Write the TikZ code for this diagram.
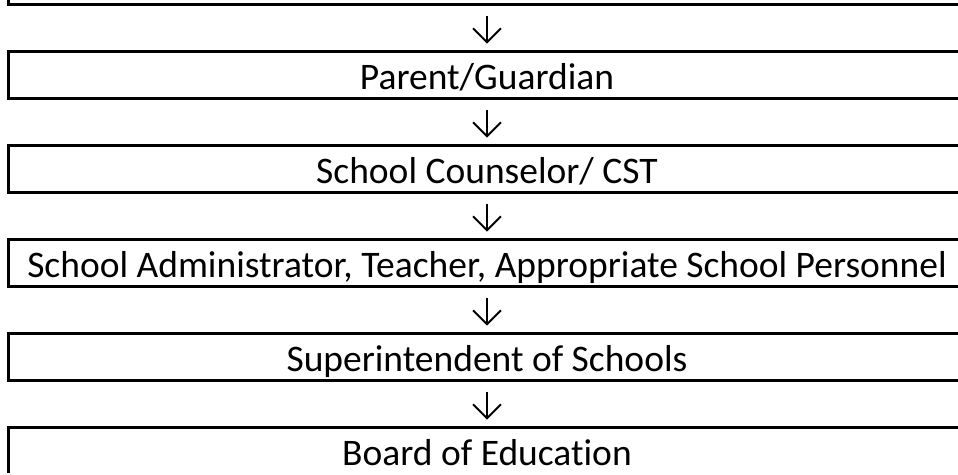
\documentclass[tikz,border=0pt]{standalone}
\usepackage{fontspec}
\setmainfont[Ligatures=NoCommon]{Carlito}
\usepackage{tikz}
\usetikzlibrary{positioning, arrows.meta}
\tikzset{
	frame/.style={
		rectangle, draw, line width=3pt,
		minimum width=958pt, minimum height=47pt,
		inner sep=0pt, outer sep=0pt,
		text height=29pt, text depth=0pt,
	},
	line/.style={
		draw, line width=2pt, -{Straight Barb[length=14pt,width=28pt]},
		shorten <=11pt, shorten >=8pt,
	}
}

\begin{document}
\begin{tikzpicture}[x=1pt, y=1pt, font=\fontsize{37.5}{45}\selectfont, node distance=47pt]
				\useasboundingbox (0,0) rectangle (958,474);
				\clip (0,1.5) rectangle (958,474);
				
				\node [frame] (prev) at (487,492.8) {};
				\node [frame, below=of prev] (par) {Parent/Guardian};
				\node [frame, below=of par] (cns) {School Counselor/ CST};
				\node [frame, below=of cns] (adm) {School Administrator, Teacher, Appropriate School Personnel};
				\node [frame, below=of adm] (sup) {Superintendent of Schools};
				\node [frame, below=of sup] (boe) {Board of Education};
				
				\path [line] (prev) -- (par);
				\path [line] (par) -- (cns);
				\path [line] (cns) -- (adm);
				\path [line] (adm) -- (sup);
				\path [line] (sup) -- (boe);
\end{tikzpicture}
\end{document}
